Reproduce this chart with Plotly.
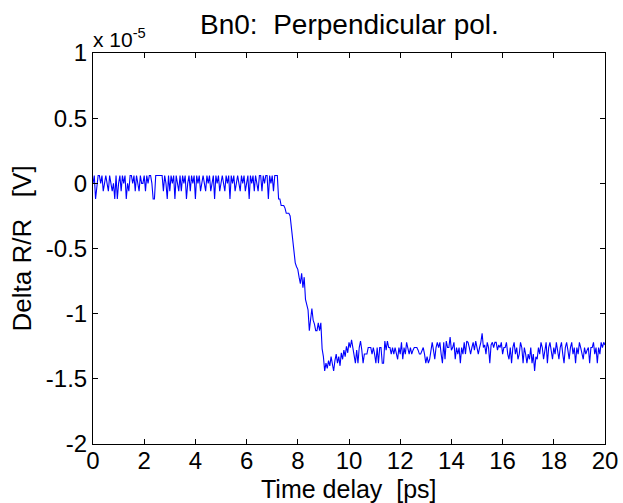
import plotly.graph_objects as go

# time grid: 0 .. 20 ps in 0.05 ps steps
t_start = 0.0
t_step = 0.05

# Delta R/R in units of 1e-5 V
baseline = [
    0.0, 0.06, -0.12, 0.0, 0.06, 0.06, 0.0, 0.06, -0.06, 0.0,
    0.06, 0.0, -0.06, 0.06, 0.0, -0.06, 0.0, -0.12, 0.06, -0.12,
    0.0, 0.06, -0.06, 0.06, 0.0, 0.06, -0.12, 0.0, -0.06, 0.06,
    0.06, 0.0, 0.06, -0.06, 0.06, 0.0, -0.06, 0.06, 0.0, 0.0,
    0.06, -0.06, 0.06, 0.0, 0.06, 0.06, 0.0, -0.12, -0.12, 0.06,
    0.06, 0.06, 0.06, 0.06, 0.06, -0.06, 0.06, 0.0, -0.12, 0.06,
    -0.06, 0.06, 0.0, 0.06, -0.12, 0.06, 0.0, -0.06, 0.06, -0.06,
    0.06, 0.0, 0.06, -0.12, 0.0, 0.06, -0.06, 0.06, 0.0, 0.06,
    -0.12, 0.06, 0.0, 0.06, -0.06, 0.0, 0.06, 0.0, -0.06, 0.06,
    0.0, 0.06, -0.06, 0.0, 0.06, -0.12, 0.06, 0.0, 0.06, -0.06,
    0.0, 0.06, 0.0, -0.06, 0.06, 0.0, 0.06, -0.12, 0.06, 0.0,
    0.06, -0.06, 0.0, 0.06, 0.0, -0.06, 0.06, 0.0, 0.06, -0.06,
    0.0, 0.06, -0.12, 0.06, 0.0, 0.06, -0.06, 0.06, 0.0, -0.06,
    0.06, 0.06, -0.06, 0.06, 0.0, 0.06, 0.06, -0.12, 0.06, 0.0,
    0.06, -0.06, 0.06, 0.06, 0.06,
]

drop = [
    -0.12, -0.12, -0.17, -0.17, -0.17, -0.19, -0.23, -0.23, -0.23, -0.25,
    -0.35, -0.45, -0.54, -0.61, -0.64, -0.66, -0.72, -0.77, -0.69, -0.80,
    -0.72, -0.89, -0.93, -0.97, -1.13, -1.03, -0.96, -1.05, -1.08, -1.13,
    -1.13, -1.07, -1.13, -1.07, -1.27, -1.33, -1.44, -1.38,
]

tail = [
    -1.42, -1.36, -1.40, -1.33, -1.38, -1.44, -1.36, -1.31, -1.38, -1.33,
    -1.40, -1.30, -1.35, -1.28, -1.33, -1.25, -1.30, -1.22, -1.26, -1.20,
    -1.26, -1.31, -1.38, -1.28, -1.38, -1.26, -1.21, -1.28, -1.38, -1.31,
    -1.31, -1.31, -1.26, -1.26, -1.26, -1.31, -1.26, -1.31, -1.38, -1.26,
    -1.38, -1.26, -1.26, -1.38, -1.38, -1.21, -1.28, -1.21, -1.26, -1.26,
    -1.31, -1.26, -1.31, -1.26, -1.31, -1.35, -1.26, -1.31, -1.22, -1.35,
    -1.26, -1.31, -1.22, -1.28, -1.31, -1.26, -1.31, -1.28, -1.26, -1.26,
    -1.26, -1.28, -1.31, -1.31, -1.28, -1.26, -1.31, -1.38, -1.33, -1.38,
    -1.35, -1.26, -1.22, -1.28, -1.35, -1.26, -1.22, -1.26, -1.22, -1.31,
    -1.38, -1.22, -1.35, -1.21, -1.26, -1.26, -1.18, -1.28, -1.26, -1.22,
    -1.35, -1.26, -1.31, -1.26, -1.38, -1.26, -1.31, -1.22, -1.31, -1.21,
    -1.22, -1.26, -1.31, -1.26, -1.22, -1.28, -1.21, -1.26, -1.31, -1.26,
    -1.22, -1.15, -1.26, -1.24, -1.31, -1.22, -1.26, -1.38, -1.24, -1.22,
    -1.26, -1.22, -1.22, -1.28, -1.24, -1.26, -1.22, -1.31, -1.26, -1.26,
    -1.22, -1.31, -1.35, -1.26, -1.38, -1.26, -1.22, -1.31, -1.26, -1.35,
    -1.31, -1.22, -1.26, -1.38, -1.26, -1.31, -1.38, -1.31, -1.35, -1.26,
    -1.38, -1.31, -1.44, -1.33, -1.35, -1.26, -1.31, -1.22, -1.26, -1.35,
    -1.28, -1.22, -1.38, -1.26, -1.22, -1.31, -1.35, -1.26, -1.31, -1.22,
    -1.31, -1.35, -1.26, -1.22, -1.31, -1.38, -1.26, -1.22, -1.28, -1.35,
    -1.26, -1.22, -1.31, -1.26, -1.38, -1.26, -1.31, -1.22, -1.26, -1.31,
    -1.35, -1.26, -1.31, -1.28, -1.26, -1.38, -1.26, -1.26, -1.22, -1.31,
    -1.26, -1.38, -1.26, -1.31, -1.22, -1.26, -1.22, -1.24,
]

signal = baseline + drop + tail
time = [round(t_start + i * t_step, 4) for i in range(len(signal))]

x_ticks = [0, 2, 4, 6, 8, 10, 12, 14, 16, 18, 20]
y_ticks = [1, 0.5, 0, -0.5, -1, -1.5, -2]
y_tick_text = ["1", "0.5", "0", "-0.5", "-1", "-1.5", "-2"]

NB = "\u00a0"
title_text = "Bn0:" + NB + NB + "Perpendicular pol."
x_title = "Time delay" + NB + NB + "[ps]"
y_title = "Delta R/R" + NB * 3 + "[V]"
exponent_text = "x 10<sup>-5</sup>"

FONT = "Liberation Sans, Arial, Helvetica, sans-serif"
FS = 24

fig = go.Figure()
fig.add_trace(go.Scatter(
    x=time, y=signal, mode="lines",
    line=dict(color="#0000ff", width=1.1),
    showlegend=False,
))

axis_common = dict(
    showline=True, linecolor="black", linewidth=1, mirror="ticks",
    ticks="inside", ticklen=5, tickcolor="black", tickwidth=1,
    showgrid=False, zeroline=False, automargin=False,
    tickfont=dict(family=FONT, size=FS, color="black"),
)

fig.update_layout(
    width=623, height=503,
    margin=dict(l=93, r=18, t=53, b=59, autoexpand=False),
    paper_bgcolor="white", plot_bgcolor="white",
    font=dict(family=FONT, size=FS, color="black"),
    xaxis=dict(range=[0, 20], tickvals=x_ticks,
               ticktext=[str(v) for v in x_ticks], ticklabelstandoff=-5,
               **axis_common),
    yaxis=dict(range=[-2, 1], tickvals=y_ticks, ticktext=y_tick_text,
               **axis_common),
    annotations=[
        dict(text=title_text, xref="paper", yref="paper", x=0.5, y=1,
             xanchor="center", yanchor="middle", yshift=29, showarrow=False,
             font=dict(family=FONT, size=28, color="black")),
        dict(text=x_title, xref="paper", yref="paper", x=0.5, y=0,
             xanchor="center", yanchor="middle", yshift=-45, showarrow=False,
             font=dict(family=FONT, size=25, color="black")),
        dict(text=y_title, xref="paper", yref="paper", x=0, y=0.5,
             xanchor="center", yanchor="middle", xshift=-72, textangle=-90,
             showarrow=False, font=dict(family=FONT, size=26, color="black")),
        dict(text=exponent_text, xref="paper", yref="paper", x=0, y=1,
             xanchor="left", yanchor="bottom", xshift=-2, yshift=0,
             showarrow=False, font=dict(family=FONT, size=21, color="black")),
    ],
)

fig.write_html("out.html")
